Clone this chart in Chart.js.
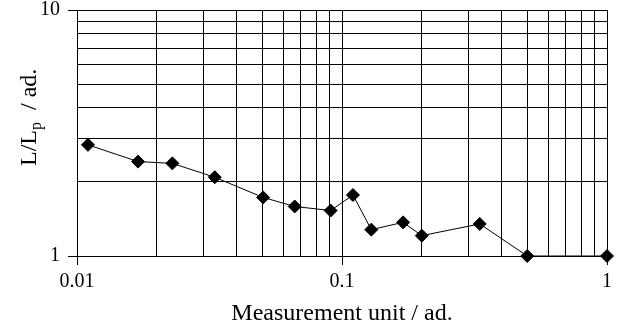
<!DOCTYPE html>
<html>
<head>
<meta charset="utf-8">
<script src="https://cdn.jsdelivr.net/npm/chart.js@4.4.1/dist/chart.umd.min.js"></script>
<style>
  html, body { margin: 0; padding: 0; background: #fff; }
  #wrap { width: 618px; height: 329px; position: relative; }
</style>
</head>
<body>
<div id="wrap"><canvas id="lpChart"></canvas></div>
<script>
// values
const xValues = [0.011, 0.017, 0.0229, 0.0331, 0.0504, 0.0663, 0.0906, 0.110, 0.129, 0.170, 0.200, 0.331, 0.50, 1.0];
const yValues = [2.83, 2.42, 2.38, 2.09, 1.73, 1.59, 1.53, 1.77, 1.28, 1.37, 1.21, 1.35, 1.0, 1.0];

const xTickLabels = ["0.01", "0.1", "1"];
const yTickLabels = ["1", "10"];
const xTitle = "Measurement unit / ad.";
const yTitleParts = ["L/L", "p", "  / ad."];

const serif = "'Liberation Serif', 'Times New Roman', serif";

const points = xValues.map((x, i) => ({ x: x, y: yValues[i] }));

function isDecade(v) {
  const l = Math.log10(v);
  return Math.abs(l - Math.round(l)) < 1e-6;
}

function decadeLabel(v, labels) {
  if (!isDecade(v)) return "";
  const found = labels.find((s) => Math.abs(parseFloat(s) - v) < v * 1e-6);
  return found || "";
}

// 1..9 in every decade from the first label to the last
function logGrid(labels) {
  const lo = Math.round(Math.log10(parseFloat(labels[0])));
  const hi = Math.round(Math.log10(parseFloat(labels[labels.length - 1])));
  const out = [];
  for (let d = lo; d < hi; d++) {
    for (let m = 1; m < 10; m++) out.push({ value: m * Math.pow(10, d) });
  }
  out.push({ value: Math.pow(10, hi) });
  return out;
}

// y title has a subscript, so draw it by hand
const yTitlePlugin = {
  id: "yTitle",
  afterDraw(chart) {
    const ctx = chart.ctx;
    ctx.save();
    ctx.translate(36, 166);
    ctx.rotate(-Math.PI / 2);
    ctx.fillStyle = "#000";
    ctx.textBaseline = "alphabetic";
    ctx.textAlign = "left";
    ctx.font = "24px " + serif;
    let x = 0;
    ctx.fillText(yTitleParts[0], x, 0);
    x += ctx.measureText(yTitleParts[0]).width;
    ctx.font = "16px " + serif;
    ctx.fillText(yTitleParts[1], x, 5);
    x += ctx.measureText(yTitleParts[1]).width;
    ctx.font = "24px " + serif;
    ctx.fillText(yTitleParts[2], x, 0);
    ctx.restore();
  },
};

function gridOpts() {
  return {
    color: "#000",
    lineWidth: 1,
    tickLength: 9,
    tickColor: (c) => (c.tick && isDecade(c.tick.value) ? "#000" : "rgba(0,0,0,0)"),
  };
}

new Chart(document.getElementById("lpChart"), {
  type: "scatter",
  data: {
    datasets: [
      {
        data: points,
        showLine: true,
        clip: false,
        borderColor: "#000",
        borderWidth: 1,
        backgroundColor: "#000",
        pointStyle: "rectRot",
        pointRadius: 6.5,
        pointBorderWidth: 1,
        pointBorderColor: "#000",
        pointBackgroundColor: "#000",
      },
    ],
  },
  options: {
    responsive: true,
    maintainAspectRatio: false,
    animation: false,
    layout: { padding: { top: 10, right: 11, left: 0, bottom: 0 } },
    plugins: { legend: { display: false }, tooltip: { enabled: false } },
    scales: {
      x: {
        type: "logarithmic",
        min: 0.01,
        max: 1,
        grid: gridOpts(),
        border: { color: "#000", width: 1 },
        ticks: {
          autoSkip: false,
          maxRotation: 0,
          padding: 5,
          color: "#000",
          font: { family: serif, size: 20 },
          callback: (v) => decadeLabel(v, xTickLabels),
        },
        afterBuildTicks: (scale) => {
          scale.ticks = logGrid(xTickLabels);
        },
        title: {
          display: true,
          text: xTitle,
          color: "#000",
          font: { family: serif, size: 24 },
          padding: { top: 0, bottom: 1 },
        },
        afterFit: (scale) => {
          scale.height = 73;
          scale.paddingLeft = 0;
          scale.paddingRight = 0;
        },
      },
      y: {
        type: "logarithmic",
        min: 1,
        max: 10,
        grid: gridOpts(),
        border: { color: "#000", width: 1 },
        ticks: {
          autoSkip: false,
          padding: 8,
          color: "#000",
          font: { family: serif, size: 20 },
          callback: (v) => decadeLabel(v, yTickLabels),
        },
        afterBuildTicks: (scale) => {
          scale.ticks = logGrid(yTickLabels);
        },
        afterFit: (scale) => {
          scale.width = 77;
          scale.paddingTop = 0;
          scale.paddingBottom = 0;
        },
      },
    },
  },
  plugins: [yTitlePlugin],
});
</script>
</body>
</html>
